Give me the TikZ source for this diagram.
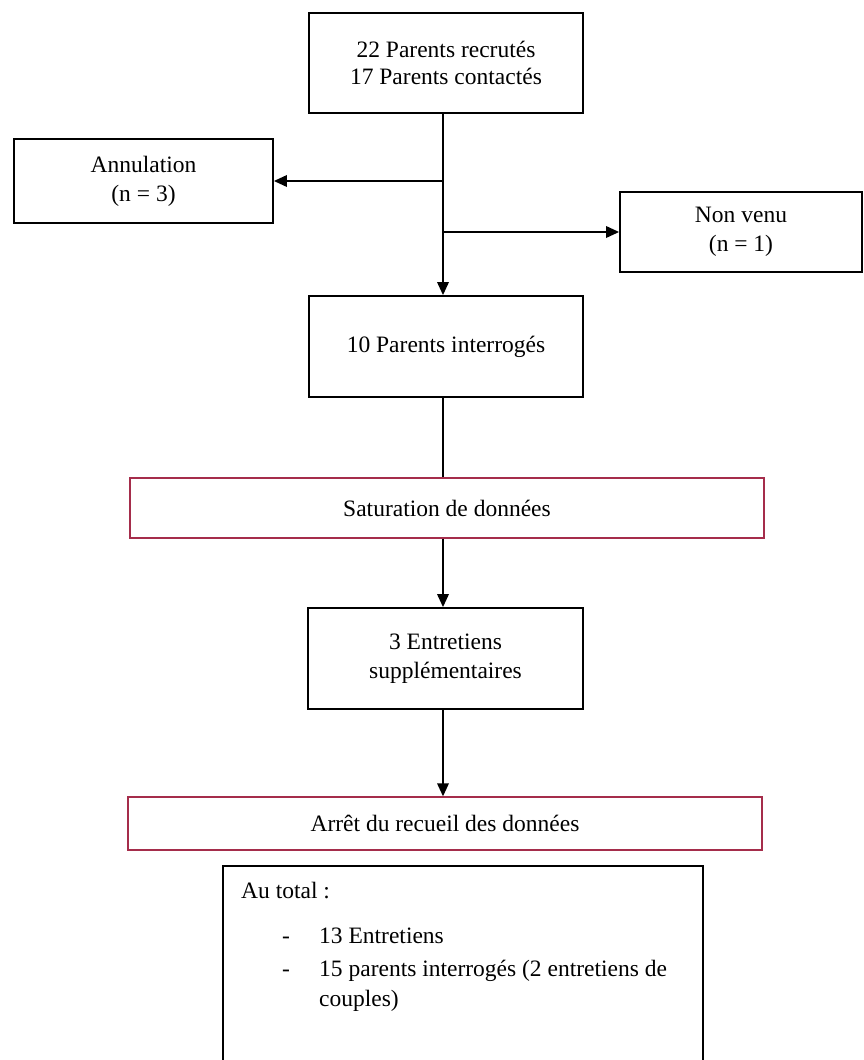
\documentclass[tikz,border=0pt]{standalone}
\usepackage{fontspec}
\setmainfont{Liberation Serif}
\usetikzlibrary{arrows.meta}
\definecolor{boxred}{RGB}{165,45,75}
\tikzset{
  txt/.style={font=\fontsize{23.5}{29}\selectfont, align=center, inner sep=0pt},
  bbox/.style={draw=black, line width=1.8pt, fill=white, inner sep=0pt},
  rbox/.style={draw=boxred, line width=1.3pt, fill=white, inner sep=0pt},
  conn/.style={line width=1.8pt, draw=black},
  arr/.style={conn, -{Triangle[length=13pt,width=11.5pt]}},
  ltxt/.style={font=\fontsize{23.5}{29}\selectfont, anchor=base west, inner sep=0pt},
}
\begin{document}
\begin{tikzpicture}[x=1pt,y=-1pt]
\useasboundingbox (0,0) rectangle (864,1060);
\fill[white] (0,0) rectangle (864,1060);
\clip (0,0) rectangle (864,1060);
% boxes
\node[bbox, minimum width=274, minimum height=100] (top) at (446,63) {};
\node[txt, font=\fontsize{23.5}{27}\selectfont] (toptxt) at (top.center) {22 Parents recrutés\\17 Parents contactés};
\node[bbox, minimum width=259, minimum height=84] (ann) at (143.5,181) {};
\node[txt] (anntxt) at (ann.center) {Annulation\\(n = 3)};
\node[bbox, minimum width=242, minimum height=80] (nv) at (741,232) {};
\node[txt] (nvtxt) at (nv.center) {Non venu\\(n = 1)};
\node[bbox, minimum width=274, minimum height=101] (p10) at (446,346.5) {};
\node[txt] (p10txt) at (p10.center) {10 Parents interrogés};
\node[rbox, minimum width=634, minimum height=60] (sat) at (447,508) {};
\node[txt] (sattxt) at (sat.center) {Saturation de données};
\node[bbox, minimum width=275, minimum height=101] (e3) at (445.5,658.5) {};
\node[txt] (e3txt) at (e3.center) {3 Entretiens\\supplémentaires};
\node[rbox, minimum width=634, minimum height=53] (arr) at (445,823.5) {};
\node[txt] (arrtxt) at (arr.center) {Arrêt du recueil des données};
\node[bbox, minimum width=480, minimum height=230] (tot) at (463,981) {};
\node[ltxt] (t0) at (241,898) {Au total :};
\node[ltxt] (d1) at (282,943) {-};
\node[ltxt] (t1) at (319,943) {13 Entretiens};
\node[ltxt] (d2) at (282,976) {-};
\node[ltxt] (t2) at (319,976) {15 parents interrogés (2 entretiens de};
\node[ltxt] (t3) at (319,1006) {couples)};
% connectors
\coordinate (tx) at (443,0);
\coordinate (t1s) at (tx |- top.south);
\coordinate (p1n) at (tx |- p10.north);
\coordinate (p1s) at (tx |- p10.south);
\coordinate (satn) at (tx |- sat.north);
\coordinate (sats) at (tx |- sat.south);
\coordinate (e3n) at (tx |- e3.north);
\coordinate (e3s) at (tx |- e3.south);
\coordinate (arrn) at (tx |- arr.north);
\coordinate (b1) at (tx |- ann.east);
\coordinate (b2) at (tx |- nv.west);
\draw[arr] (t1s) -- (p1n);
\draw[arr] (b1) -- (ann.east);
\draw[arr] (b2) -- (nv.west);
\draw[conn] (p1s) -- (satn);
\draw[arr] (sats) -- (e3n);
\draw[arr] (e3s) -- (arrn);
\end{tikzpicture}
\end{document}
